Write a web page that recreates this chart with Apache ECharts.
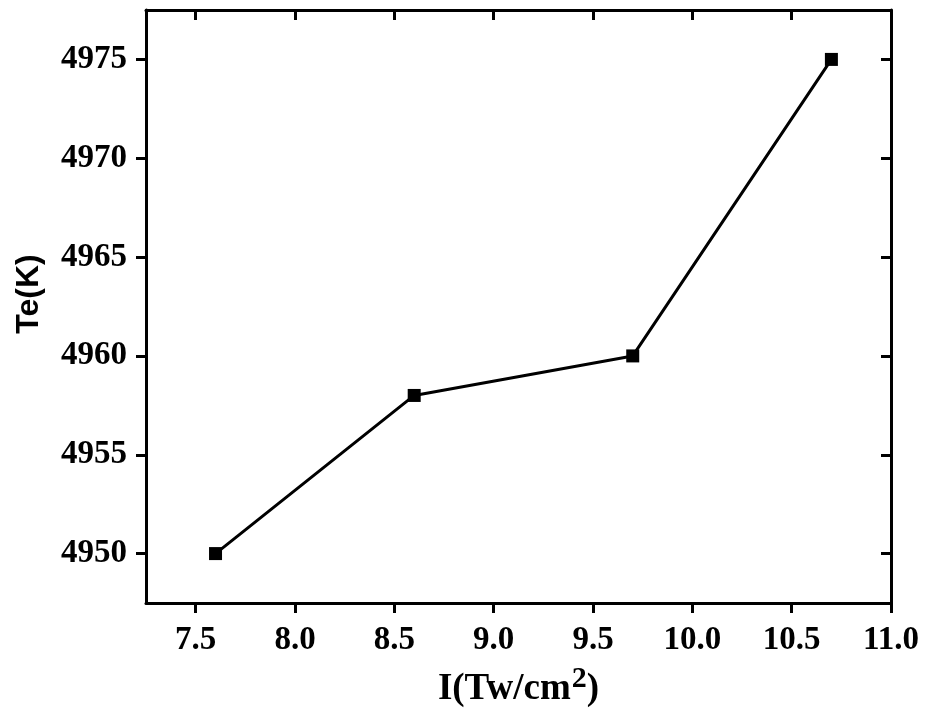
<!DOCTYPE html>
<html>
<head>
<meta charset="utf-8">
<script src="https://cdn.jsdelivr.net/npm/echarts@6/dist/echarts.min.js"></script>
<style>
  html, body { margin: 0; padding: 0; background: #fff; }
  #chart { width: 927px; height: 708px; }
</style>
</head>
<body>
<div id="chart"></div>
<script>
// 数据
const intensity = [7.6, 8.6, 9.7, 10.7];
const temperature = [4950, 4958, 4960, 4975];
const xTicks = [7.5, 8.0, 8.5, 9.0, 9.5, 10.0, 10.5, 11.0];
const yTicks = [4950, 4955, 4960, 4965, 4970, 4975];

const X_MIN = 7.25, X_MAX = 11.0;
const Y_MIN = 4947.5, Y_MAX = 4977.5;
const LABEL_FONT = { fontFamily: 'Liberation Serif', fontWeight: 'bold', fontSize: 33, color: '#000' };
const LINE = { color: '#000', width: 3 };

const chart = echarts.init(document.getElementById('chart'));
chart.setOption({
  animation: false,
  backgroundColor: '#fff',
  grid: { left: 146, right: 36, top: 10, bottom: 105, containLabel: false, outerBoundsMode: 'none' },
  xAxis: [{
    type: 'value', min: X_MIN, max: X_MAX, position: 'bottom',
    name: 'I(Tw/cm{sup|2})', nameLocation: 'middle', nameGap: 61,
    nameTextStyle: {
      fontFamily: 'Liberation Serif', fontWeight: 'bold', fontSize: 37, color: '#000',
      rich: { sup: { fontFamily: 'Liberation Serif', fontWeight: 'bold', fontSize: 30, color: '#000', padding: [0, 0, 20, 1] } },
    },
    axisLine: { show: true, onZero: false, lineStyle: LINE },
    axisTick: { show: true, inside: false, length: 10, lineStyle: LINE, customValues: xTicks },
    axisLabel: { ...LABEL_FONT, margin: 21, customValues: xTicks, formatter: v => v.toFixed(1) },
    splitLine: { show: false },
  }, {
    type: 'value', min: X_MIN, max: X_MAX, position: 'top',
    axisLine: { show: true, onZero: false, lineStyle: LINE },
    axisTick: { show: true, inside: true, length: 10, lineStyle: LINE, customValues: xTicks },
    axisLabel: { show: false },
    splitLine: { show: false },
  }],
  yAxis: [{
    type: 'value', min: Y_MIN, max: Y_MAX, position: 'left',
    name: 'Te(K)', nameLocation: 'middle', nameGap: 101, nameRotate: 90,
    nameTextStyle: {
      fontFamily: 'Liberation Sans', fontWeight: 'bold', fontSize: 32, color: '#000',
      padding: [0, 0, 0, 25],
    },
    axisLine: { show: true, onZero: false, lineStyle: LINE },
    axisTick: { show: true, inside: false, length: 10, lineStyle: LINE, customValues: yTicks },
    axisLabel: { ...LABEL_FONT, margin: 19, customValues: yTicks, formatter: v => String(v) },
    splitLine: { show: false },
  }, {
    type: 'value', min: Y_MIN, max: Y_MAX, position: 'right',
    axisLine: { show: true, onZero: false, lineStyle: LINE },
    axisTick: { show: true, inside: true, length: 10, lineStyle: LINE, customValues: yTicks },
    axisLabel: { show: false },
    splitLine: { show: false },
  }],
  series: [{
    type: 'line',
    xAxisIndex: 0, yAxisIndex: 0,
    data: intensity.map((x, i) => [x, temperature[i]]),
    symbol: 'rect', symbolSize: 13,
    itemStyle: { color: '#000' },
    lineStyle: { color: '#000', width: 3 },
  }],
});
</script>
</body>
</html>
